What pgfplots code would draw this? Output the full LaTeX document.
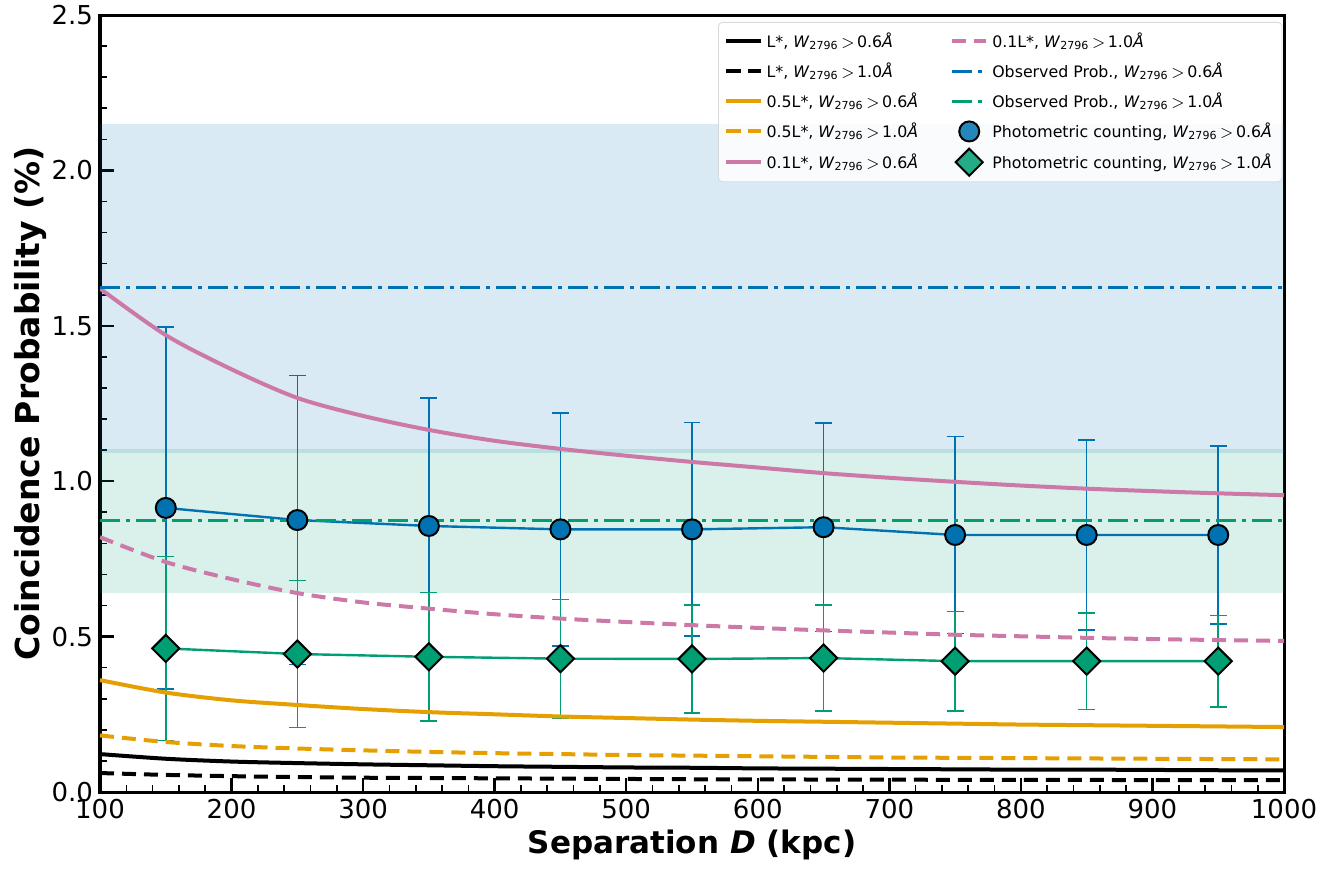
\documentclass[border=0pt]{standalone}
\usepackage{pgfplots}
\pgfplotsset{compat=1.18}
\usepackage{fontspec}
\setmainfont{DejaVu Sans}
\definecolor{cblue}{RGB}{0,114,178}
\definecolor{cgreen}{RGB}{0,158,115}
\definecolor{corange}{RGB}{230,159,0}
\definecolor{cpink}{RGB}{204,121,167}
\newcommand{\Wc}[1]{\textit{W}\textsubscript{2796}\,$>$\,#1\textit{Å}}
\begin{document}
\begin{tikzpicture}
\path[use as bounding box] (-50pt,-38pt) rectangle (618.5pt,396pt);
\begin{axis}[
  scale only axis, width=592pt, height=388.5pt,
  xmin=100, xmax=1000, ymin=0, ymax=2.5,
  xtick={100,200,300,400,500,600,700,800,900,1000},
  ytick={0,0.5,1,1.5,2,2.5},
  minor x tick num=4, minor y tick num=4,
  tick pos=left, tick align=inside,
  major tick length=7pt, minor tick length=3.5pt,
  every major tick/.style={line width=1.2pt, black},
  every minor tick/.style={line width=0.8pt, black},
  axis line style={line width=1.5pt},
  scaled ticks=false,
  /pgf/number format/1000 sep={},
  /pgf/number format/assume math mode=true,
  yticklabel style={/pgf/number format/fixed, /pgf/number format/fixed zerofill, /pgf/number format/precision=1},
  ticklabel style={font=\fontsize{13}{15}\selectfont},
  xlabel={\textbf{Separation \textit{D} (kpc)}},
  ylabel={\textbf{Coincidence Probability (\%)}},
  xlabel style={at={(axis description cs:0.5,-0.068)}, anchor=center, font=\fontsize{15.5}{18}\selectfont},
  ylabel style={at={(axis description cs:-0.0591,0.5)}, anchor=center, font=\fontsize{16.5}{18}\selectfont},
  legend style={at={(0.522,0.991)}, anchor=north west, font=\fontsize{7.9}{9}\selectfont,
    draw=black!15, rounded corners=2pt, fill=white, fill opacity=0.85, text opacity=1,
    row sep=2.2pt, inner xsep=3pt, inner ysep=3pt},
  legend columns=5, transpose legend,
  legend cell align=left,
  /tikz/every even column/.append style={column sep=14pt},
]
% bands
\addplot[draw=none, fill=cblue, fill opacity=0.15, forget plot] coordinates {(100,1.09) (1000,1.09) (1000,2.15) (100,2.15)} -- cycle;
\addplot[draw=none, fill=cgreen, fill opacity=0.15, forget plot] coordinates {(100,0.64) (1000,0.64) (1000,1.105) (100,1.105)} -- cycle;

% photometric lines with error bars
\addplot[cblue, line width=1.2pt, forget plot, error bars/.cd, y dir=both, y explicit,
  error bar style={line width=0.8pt}, error mark options={rotate=90, mark size=4.2pt, line width=0.8pt}]
  table[x=x, y=y, y error=e] {
x y e
150 0.914 0.582
250 0.875 0.465
350 0.856 0.412
450 0.845 0.375
550 0.845 0.344
650 0.852 0.335
750 0.827 0.317
850 0.827 0.306
950 0.827 0.286
};
\addplot[cgreen, line width=1.2pt, forget plot, error bars/.cd, y dir=both, y explicit,
  error bar style={line width=0.8pt}, error mark options={rotate=90, mark size=4.2pt, line width=0.8pt}]
  table[x=x, y=y, y error=e] {
x y e
150 0.462 0.296
250 0.444 0.237
350 0.435 0.207
450 0.429 0.190
550 0.428 0.174
650 0.431 0.170
750 0.421 0.160
850 0.421 0.155
950 0.421 0.147
};

% model curves
\addplot[black, line width=2pt, smooth] table {
100 0.122
150 0.107
200 0.098
250 0.093
300 0.089
350 0.086
400 0.083
450 0.081
500 0.079
550 0.078
600 0.076
650 0.075
700 0.074
750 0.073
800 0.072
850 0.072
900 0.071
950 0.070
1000 0.070
};
\addlegendentry{L*, \Wc{0.6}}
\addplot[black, line width=2pt, smooth, dash pattern=on 7pt off 4pt] table {
100 0.061
150 0.055
200 0.051
250 0.048
300 0.046
350 0.045
400 0.044
450 0.043
500 0.042
550 0.041
600 0.041
650 0.040
700 0.040
750 0.039
800 0.039
850 0.039
900 0.038
950 0.038
1000 0.038
};
\addlegendentry{L*, \Wc{1.0}}
\addplot[corange, line width=2pt, smooth] table {
100 0.360
150 0.320
200 0.295
250 0.280
300 0.267
350 0.257
400 0.250
450 0.243
500 0.238
550 0.233
600 0.229
650 0.226
700 0.223
750 0.220
800 0.217
850 0.215
900 0.213
950 0.211
1000 0.209
};
\addlegendentry{0.5L*, \Wc{0.6}}
\addplot[corange, line width=2pt, smooth, dash pattern=on 7pt off 4pt] table {
100 0.182
150 0.161
200 0.148
250 0.140
300 0.134
350 0.129
400 0.125
450 0.122
500 0.119
550 0.117
600 0.115
650 0.113
700 0.111
750 0.110
800 0.109
850 0.108
900 0.107
950 0.106
1000 0.105
};
\addlegendentry{0.5L*, \Wc{1.0}}
\addplot[cpink, line width=2pt, smooth] table {
100 1.620
150 1.470
200 1.360
250 1.268
300 1.210
350 1.165
400 1.130
450 1.104
500 1.082
550 1.062
600 1.044
650 1.026
700 1.011
750 0.998
800 0.986
850 0.976
900 0.968
950 0.961
1000 0.955
};
\addlegendentry{0.1L*, \Wc{0.6}}
\addplot[cpink, line width=2pt, smooth, dash pattern=on 7pt off 4pt] table {
100 0.820
150 0.740
200 0.685
250 0.640
300 0.610
350 0.590
400 0.572
450 0.558
500 0.547
550 0.537
600 0.528
650 0.520
700 0.513
750 0.506
800 0.501
850 0.496
900 0.492
950 0.489
1000 0.486
};
\addlegendentry{0.1L*, \Wc{1.0}}

% observed
\addplot[cblue, line width=1.5pt, dash pattern=on 10pt off 3pt on 2pt off 3pt] coordinates {(100,1.622) (1000,1.622)};
\addlegendentry{Observed Prob., \Wc{0.6}}
\addplot[cgreen, line width=1.5pt, dash pattern=on 10pt off 3pt on 2pt off 3pt] coordinates {(100,0.872) (1000,0.872)};
\addlegendentry{Observed Prob., \Wc{1.0}}

% markers
\addplot[only marks, mark=*, mark size=5pt, mark options={fill=cblue, draw=black, line width=1pt}] table {
150 0.914
250 0.875
350 0.856
450 0.845
550 0.845
650 0.852
750 0.827
850 0.827
950 0.827
};
\addlegendentry{Photometric counting, \Wc{0.6}}
\addplot[only marks, mark=square*, mark size=4.8pt, mark options={rotate=45, fill=cgreen, draw=black, line width=1pt}] table {
150 0.462
250 0.444
350 0.435
450 0.429
550 0.428
650 0.431
750 0.421
850 0.421
950 0.421
};
\addlegendentry{Photometric counting, \Wc{1.0}}
\end{axis}
\end{tikzpicture}
\end{document}
